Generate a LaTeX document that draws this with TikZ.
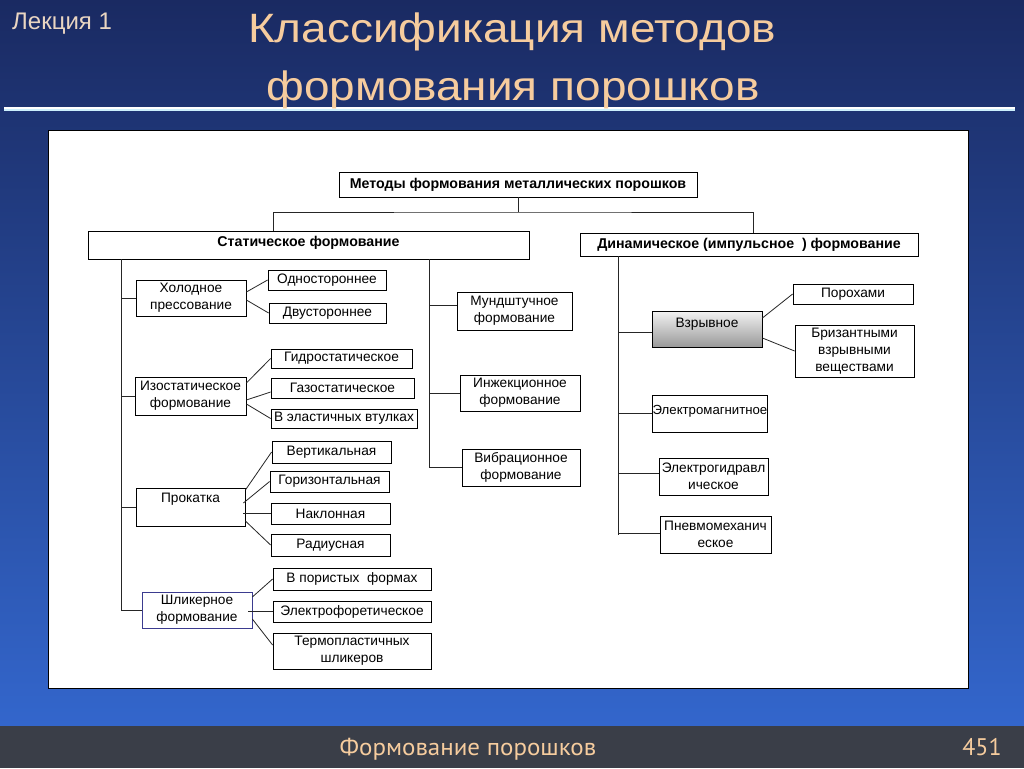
\documentclass[tikz,border=0pt]{standalone}
\usepackage{fontspec}
\setmainfont{Liberation Sans}
\newfontfamily\footfont{PT Sans}
\usetikzlibrary{calc}
\definecolor{bgtop}{HTML}{1A2A62}
\definecolor{bgbot}{HTML}{3366CC}
\definecolor{footc}{HTML}{3A3E48}
\definecolor{titlec}{HTML}{F6CC9E}
\definecolor{lecc}{HTML}{EAD6C2}
\definecolor{shlikc}{HTML}{3B3B8F}
\begin{document}
\begin{tikzpicture}[x=1pt,y=-1pt,
  bx/.style={draw=black, line width=0.8pt, fill=white, inner sep=1pt, align=center,
    font=\fontsize{13.7}{17}\selectfont},
  hd/.style={bx, font=\fontsize{14.2}{17}\selectfont\bfseries},
  ln/.style={line width=0.8pt, draw=black!85}]
\useasboundingbox (0,0) rectangle (1024,768);
% background
\shade[top color=bgtop, bottom color=bgbot] (0,0) rectangle (1024,726);
\fill[footc] (0,726) rectangle (1024,768);
\draw[line width=1.2pt, color=white] (4,108) -- (1015,108);
\draw[line width=1.2pt, color=cyan!20!white] (4,110) -- (1015,110);
% titles
\node[anchor=base west, text=lecc, font=\fontsize{24}{24}\selectfont, inner sep=0pt] (lec) at (12,30) {Лекция 1};
\node[anchor=base, text=titlec, font=\fontsize{41}{41}\selectfont, inner sep=0pt] (t1) at (512,42) {\scalebox{1.12}[1]{Классификация методов}};
\node[anchor=base, text=titlec, font=\fontsize{41}{41}\selectfont, inner sep=0pt] (t2) at (513,100) {\scalebox{1.12}[1]{формования порошков}};
\node[anchor=base, text=titlec, font=\footfont\fontsize{24}{24}\selectfont, inner sep=0pt] (ft) at (468,755) {\scalebox{1.04}[1]{Формование порошков}};
\node[anchor=base, text=titlec, font=\footfont\fontsize{24}{24}\selectfont, inner sep=0pt] (pg) at (982,755) {451};
% panel
\draw[fill=white, line width=0.8pt] (48,130) rectangle (968,688);

% top level
\node[hd, minimum width=358, minimum height=25] (mtop) at (518,184.5) {Методы формования металлических порошков};
\node[hd, minimum width=441, text height=14pt, text depth=12pt] (stat) at (308.5,245) {Статическое формование};
\node[hd, minimum width=338, minimum height=23] (dyn) at (749,244.5) {Динамическое (импульсное~~) формование};
\coordinate (bar) at (512,212);
\draw[ln] (mtop.south) -- (mtop.south |- bar);
\draw[ln] ([xshift=-35.5pt]stat.north) |- (bar) -| ([xshift=4pt]dyn.north);

% static left column
\node[bx, minimum width=110, minimum height=36] (holod) at (191,298) {Холодное\\прессование};
\node[bx, minimum width=118, minimum height=20] (odn) at (327,280) {Одностороннее};
\node[bx, minimum width=117, minimum height=20] (dvu) at (327.5,313) {Двустороннее};
\node[bx, minimum width=111, minimum height=38] (izo) at (190.5,396) {Изостатическое\\формование};
\node[bx, minimum width=141, minimum height=19] (gidro) at (341.5,358.5) {Гидростатическое};
\node[bx, minimum width=143, minimum height=20] (gazo) at (342.5,388) {Газостатическое};
\node[bx, minimum width=146, minimum height=19] (elast) at (344,418.5) {В эластичных втулках};
\node[bx, minimum width=109, text height=13pt, text depth=23pt] (prok) at (190.5,507) {Прокатка};
\node[bx, minimum width=119, minimum height=22] (vert) at (331.5,452) {Вертикальная};
\node[bx, minimum width=119, minimum height=21] (goriz) at (329.5,481.5) {Горизонтальная};
\node[bx, minimum width=119, minimum height=21] (nakl) at (330.5,513.5) {Наклонная};
\node[bx, minimum width=119, minimum height=22] (rad) at (330.5,545) {Радиусная};
\node[bx, draw=shlikc, line width=0.7pt, minimum width=110, minimum height=36] (shlik) at (197,610) {Шликерное\\формование};
\node[bx, minimum width=158, minimum height=22] (por) at (352,579) {В пористых~~формах};
\node[bx, minimum width=158, minimum height=21] (elf) at (352,611.5) {Электрофоретическое};
\node[bx, minimum width=158, minimum height=36] (termo) at (352,651) {Термопластичных\\шликеров};

\coordinate (L0) at (121,259);
\draw[ln] (stat.south -| L0) -- (shlik.west -| L0);
\foreach \n in {holod,izo,prok,shlik} \draw[ln] (\n.west) -- (\n.west -| L0);

\draw[ln] ([yshift=6pt]holod.east) -- (odn.west);
\draw[ln] ([yshift=-2pt]holod.east) -- (dvu.west);
\draw[ln] ([yshift=13pt]izo.east) -- (gidro.west);
\draw[ln] ([yshift=-4pt]izo.east) -- ([yshift=-4pt]gazo.west);
\draw[ln] ([yshift=-8pt]izo.east) -- (elast.west);
\draw[ln] ([yshift=17pt]prok.east) -- (vert.west);
\draw[ln] ([yshift=4pt,xshift=-2pt]prok.east) -- (goriz.west);
\draw[ln] ([xshift=-2pt]nakl.west -| prok.east) -- (nakl.west);
\draw[ln] ([yshift=-14pt]prok.east) -- (rad.west);
\draw[ln] ([yshift=13pt]shlik.east) -- (por.west);
\draw[ln] ([xshift=-4pt]elf.west -| shlik.east) -- (elf.west);
\draw[ln] ([yshift=-9pt]shlik.east) -- ([yshift=6pt]termo.west);

% static middle column
\node[bx, minimum width=115, minimum height=38] (mund) at (514.5,311) {Мундштучное\\формование};
\node[bx, minimum width=120, minimum height=36] (inj) at (520,393) {Инжекционное\\формование};
\node[bx, minimum width=118, minimum height=37] (vib) at (521,467.5) {Вибрационное\\формование};
\coordinate (M0) at (429,259);
\draw[ln] (stat.south -| M0) -- (vib.west -| M0);
\draw[ln] ([yshift=6pt]mund.west) -- ([yshift=6pt]mund.west -| M0);
\draw[ln] (inj.west) -- (inj.west -| M0);
\draw[ln] (vib.west) -- (vib.west -| M0);

% dynamic column
\node[bx, top color=white!95!black, bottom color=black!40, minimum width=110, text height=15pt, text depth=19pt] (vzr) at (707,329) {Взрывное};
\node[bx, minimum width=120, minimum height=20] (porox) at (853,294) {Порохами};
\node[bx, minimum width=119, minimum height=52] (briz) at (854.5,351) {Бризантными\\взрывными\\веществами};
\node[bx, inner xsep=0pt, font=\fontsize{13.2}{17}\selectfont, minimum width=114, text height=18pt, text depth=17pt] (emag) at (710,413.5) {Электромагнитное};
\node[bx, minimum width=109, minimum height=37] (egidr) at (713.5,476.5) {Электрогидравл\\ическое};
\node[bx, minimum width=111, minimum height=37] (pnev) at (715.5,534.5) {Пневмомеханич\\еское};
\coordinate (R0) at (618,256);
\draw[ln] (dyn.south -| R0) -- (pnev.west -| R0);
\draw[ln] ([yshift=-3pt]vzr.west) -- ([yshift=-3pt]vzr.west -| R0);
\draw[ln] (emag.west) -- (emag.west -| R0);
\draw[ln] ([yshift=3pt]egidr.west) -- ([yshift=3pt]egidr.west -| R0);
\draw[ln] ([yshift=1pt]pnev.west) -- ([yshift=1pt]pnev.west -| R0);
\draw[ln] ([yshift=11pt]vzr.east) -- (porox.west);
\draw[ln] ([yshift=-9pt]vzr.east) -- (briz.west);
\end{tikzpicture}
\end{document}
